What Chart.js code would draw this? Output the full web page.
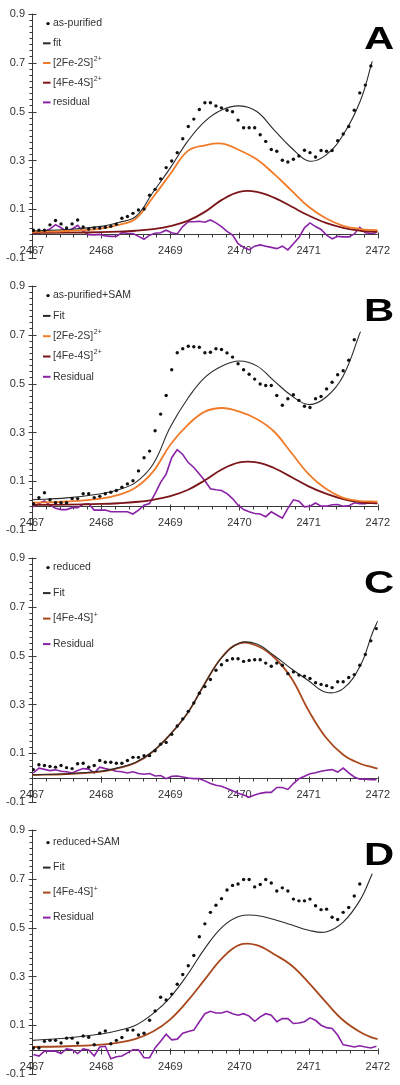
<!DOCTYPE html>
<html>
<head>
<meta charset="utf-8">
<script src="https://cdn.jsdelivr.net/npm/chart.js@4.4.1/dist/chart.umd.min.js"></script>
<style>
  html, body { margin: 0; padding: 0; background: #fff; width: 400px; height: 1085px; overflow: hidden; position: relative; }
  canvas { position: absolute; left: 0; }
</style>
</head>
<body>
<canvas id="panelA" width="400" height="272" style="top:0px"></canvas>
<canvas id="panelB" width="400" height="272" style="top:272px"></canvas>
<canvas id="panelC" width="400" height="272" style="top:544px"></canvas>
<canvas id="panelD" width="400" height="272" style="top:816px"></canvas>
<script>
// measured energies (eV) of the data points / residual
const energy = [
  2467.02, 2467.10, 2467.18, 2467.26, 2467.34, 2467.42, 2467.50, 2467.58, 2467.66, 2467.74,
  2467.82, 2467.90, 2467.98, 2468.06, 2468.14, 2468.22, 2468.30, 2468.38, 2468.46, 2468.54,
  2468.62, 2468.70, 2468.78, 2468.86, 2468.94, 2469.02, 2469.10, 2469.18, 2469.26, 2469.34,
  2469.42, 2469.50, 2469.58, 2469.66, 2469.74, 2469.82, 2469.90, 2469.98, 2470.06, 2470.14,
  2470.22, 2470.30, 2470.38, 2470.46, 2470.54, 2470.62, 2470.70, 2470.78, 2470.86, 2470.94,
  2471.02, 2471.10, 2471.18, 2471.26, 2471.34, 2471.42, 2471.50, 2471.58, 2471.66, 2471.74,
  2471.82, 2471.90, 2471.98
];
// energies for the smooth fit / component curves
const curveEnergy = [2467, 2467.5, 2468, 2468.25, 2468.5, 2468.75, 2469, 2469.25, 2469.5, 2469.75,
  2470, 2470.25, 2470.5, 2470.75, 2471, 2471.25, 2471.5, 2471.75, 2471.92, 2472];

const xTicks = [2467, 2468, 2469, 2470, 2471, 2472];
const yTicks = [-0.1, 0.1, 0.3, 0.5, 0.7, 0.9];

// A: as-purified
const dotsA = [0.015,0.015,0.015,0.037,0.055,0.041,0.024,0.041,0.057,0.028,
  0.020,0.024,0.024,0.027,0.031,0.040,0.064,0.071,0.084,0.098,
  0.102,0.158,0.182,0.225,0.271,0.298,0.332,0.389,0.439,0.469,
  0.508,0.536,0.536,0.523,0.515,0.505,0.499,0.465,0.434,0.434,
  0.434,0.405,0.378,0.345,0.338,0.301,0.294,0.305,0.318,0.342,
  0.332,0.314,0.341,0.338,0.341,0.381,0.408,0.439,0.505,0.576,
  0.608,0.686];
const fitA = [0.012,0.018,0.031,0.047,0.071,0.170,0.270,0.378,0.460,0.507,0.523,0.500,0.425,0.352,0.298,0.322,0.405,0.545,0.705,null];
const fe2sA = [0.008,0.012,0.022,0.037,0.062,0.150,0.245,0.338,0.362,0.369,0.342,0.305,0.245,0.178,0.111,0.064,0.033,0.020,0.016,0.015];
const fe4sA = [0.004,0.005,0.007,0.009,0.013,0.020,0.032,0.053,0.090,0.140,0.172,0.172,0.148,0.112,0.075,0.045,0.025,0.013,0.009,0.008];
const residA = [0.004,0.004,0.010,0.020,0.038,0.025,0.010,0.020,0.035,0.010,
  -0.003,-0.004,-0.002,-0.008,-0.010,-0.010,0.005,0.003,0.002,-0.010,
  -0.022,-0.005,0.003,0.005,0.015,0.005,0.000,0.030,0.050,0.050,
  0.052,0.048,0.057,0.045,0.030,0.010,-0.005,-0.040,-0.055,-0.065,
  -0.050,-0.045,-0.050,-0.055,-0.060,-0.050,-0.065,-0.040,-0.015,0.025,
  0.045,0.030,0.018,-0.005,-0.020,-0.010,-0.012,-0.012,0.000,0.027,
  0.005,0.002,0.005];

// B: as-purified+SAM
const dotsB = [0.009,0.034,0.054,0.025,0.013,0.013,0.013,0.030,0.030,0.050,
  0.050,0.034,0.039,0.050,0.056,0.063,0.076,0.090,0.103,0.143,
  0.197,0.224,0.307,0.375,0.451,0.556,0.626,0.642,0.652,0.650,
  0.648,0.626,0.628,0.642,0.639,0.625,0.608,0.581,0.556,0.538,
  0.518,0.498,0.492,0.492,0.451,0.411,0.438,0.454,0.431,0.407,
  0.402,0.438,0.447,0.478,0.505,0.536,0.552,0.595,0.679];
const fitB = [0.025,0.033,0.050,0.066,0.096,0.170,0.322,0.438,0.525,0.572,0.592,0.572,0.511,0.451,0.414,0.444,0.531,0.712,null,null];
const fe2sB = [0.013,0.018,0.030,0.045,0.075,0.140,0.250,0.330,0.385,0.400,0.385,0.355,0.304,0.217,0.130,0.070,0.033,0.020,0.018,0.017];
const fe4sB = [0.004,0.005,0.008,0.011,0.016,0.025,0.040,0.065,0.105,0.150,0.178,0.178,0.155,0.118,0.080,0.050,0.028,0.015,0.011,0.010];
const residB = [-0.004,0.010,0.020,0.003,-0.010,-0.015,-0.015,-0.007,-0.007,0.007,
  0.009,-0.017,-0.017,-0.017,-0.024,-0.024,-0.024,-0.024,-0.033,-0.017,
  0.003,0.010,0.050,0.096,0.130,0.197,0.230,0.210,0.177,0.157,
  0.130,0.103,0.070,0.066,0.063,0.050,0.030,0.003,-0.015,-0.024,
  -0.031,-0.033,-0.044,-0.024,-0.037,-0.050,-0.010,0.025,0.019,-0.004,
  -0.001,0.012,-0.001,-0.001,0.005,0.006,-0.001,0.000,0.013,0.009,
  0.009,0.016,0.012];

// C: reduced
const dotsC = [0.034,0.054,0.051,0.047,0.044,0.051,0.042,0.038,0.058,0.060,
  0.044,0.051,0.071,0.064,0.064,0.060,0.060,0.071,0.084,0.084,
  0.091,0.091,0.111,0.138,0.145,0.178,0.212,0.241,0.272,0.306,
  0.346,0.373,0.402,0.440,0.462,0.480,0.487,0.487,0.476,0.480,
  0.483,0.483,0.469,0.456,0.469,0.460,0.426,0.433,0.420,0.416,
  0.406,0.389,0.382,0.377,0.369,0.393,0.393,0.410,0.422,0.460,
  0.504,0.560,0.610];
const fitC = [0.013,0.017,0.028,0.042,0.064,0.109,0.178,0.265,0.386,0.493,0.551,0.547,0.500,0.446,0.397,0.350,0.365,0.460,0.590,0.641];
const fe4sC = [0.012,0.016,0.026,0.040,0.062,0.108,0.178,0.265,0.386,0.495,0.550,0.540,0.493,0.408,0.275,0.165,0.095,0.058,0.044,0.038];
const residC = [0.020,0.040,0.035,0.030,0.033,0.027,0.025,0.020,0.030,0.038,
  0.036,0.020,0.044,0.038,0.033,0.027,0.025,0.020,0.025,0.018,
  0.015,0.018,0.008,0.010,-0.003,0.007,0.008,0.004,0.000,-0.003,
  -0.003,-0.012,-0.023,-0.030,-0.034,-0.043,-0.052,-0.063,-0.070,-0.079,
  -0.070,-0.063,-0.059,-0.059,-0.039,-0.039,-0.047,-0.023,-0.003,0.007,
  0.017,0.021,0.027,0.031,0.034,0.024,0.040,0.021,0.004,-0.005,
  -0.005,-0.007,-0.007];

// D: reduced+SAM
const dotsD = [0.008,0.008,0.035,0.039,0.039,0.028,0.048,0.048,0.028,0.057,
  0.052,0.021,0.068,0.077,0.025,0.039,0.051,0.081,0.081,0.061,
  0.068,0.121,0.159,0.215,0.204,0.228,0.268,0.308,0.344,0.386,
  0.462,0.515,0.562,0.591,0.618,0.653,0.672,0.678,0.696,0.696,
  0.666,0.676,0.696,0.682,0.649,0.662,0.649,0.616,0.609,0.609,
  0.616,0.589,0.573,0.575,0.542,0.533,0.562,0.582,0.629,0.678];
const fitD = [0.039,0.049,0.065,0.079,0.101,0.148,0.215,0.308,0.415,0.502,0.546,0.549,0.533,0.511,0.489,0.482,0.522,0.615,0.720,null];
const fe4sD = [0.012,0.015,0.022,0.030,0.045,0.075,0.125,0.200,0.288,0.375,0.429,0.428,0.391,0.346,0.275,0.195,0.121,0.072,0.050,0.044];
const residD = [-0.019,-0.025,-0.005,-0.005,-0.005,-0.015,0.004,0.001,-0.015,0.004,
  0.000,-0.025,0.012,0.015,-0.036,-0.028,-0.025,-0.012,0.001,0.001,
  -0.032,-0.032,0.008,0.035,0.064,0.041,0.044,0.068,0.075,0.081,
  0.115,0.148,0.158,0.151,0.151,0.158,0.148,0.142,0.148,0.138,
  0.117,0.135,0.148,0.142,0.115,0.128,0.128,0.108,0.110,0.115,
  0.131,0.121,0.101,0.091,0.088,0.061,0.021,0.017,0.012,0.017,
  0.012,0.008,0.015];

const COLORS = {
  text: "#333",
  axis: "#3a3a3a",
  dots: "#111",
  fit: "#2a2a2a",
  fe2s: "#f07c2a",
  fe4s2: "#7b1518",
  fe4s1: "#a8481c",
  resid: "#8a22a6"
};
const FONT = "'Liberation Sans', Arial, sans-serif";

const pts = (xs, ys) => ys.map((y, i) => ({ x: xs[i], y })).filter((p) => p.y !== null);

const dotSet = (label, values) => ({
  label, kind: "dot",
  data: pts(energy, values),
  showLine: false,
  pointRadius: 1.7,
  pointBackgroundColor: COLORS.dots,
  pointBorderWidth: 0,
  borderColor: COLORS.dots
});
const curveSet = (label, values, color, width, sup) => ({
  label, sup, kind: "line",
  data: pts(curveEnergy, values),
  borderColor: color,
  borderWidth: width,
  pointRadius: 0,
  tension: 0.4
});
const residSet = (label, values) => ({
  label, kind: "line",
  data: pts(energy, values),
  borderColor: COLORS.resid,
  borderWidth: 1.6,
  pointRadius: 0,
  tension: 0
});

// axes, legend and panel letter
const panelDecor = {
  id: "panelDecor",
  beforeDatasetsDraw(chart) {
    const { ctx, chartArea: a, scales: { x, y } } = chart;
    const x0 = Math.round(a.left) + 0.5;
    const y0 = Math.round(y.getPixelForValue(0)) + 0.5;
    ctx.save();
    ctx.strokeStyle = COLORS.axis;
    ctx.lineWidth = 1;
    ctx.beginPath();
    ctx.moveTo(x0, y.getPixelForValue(yTicks[yTicks.length - 1]));
    ctx.lineTo(x0, y.getPixelForValue(yTicks[0]));
    ctx.moveTo(x.getPixelForValue(xTicks[0]), y0);
    ctx.lineTo(x.getPixelForValue(xTicks[xTicks.length - 1]), y0);
    for (let k = 0; k <= 40; k++) {
      const py = Math.round(y.getPixelForValue(-0.1 + k * 0.025)) + 0.5;
      const major = k % 8 === 0;
      ctx.moveTo(x0 - (major ? 4 : 3), py);
      ctx.lineTo(x0 + (major ? 4 : 0), py);
    }
    for (let k = 0; k <= 25; k++) {
      const px = Math.round(x.getPixelForValue(2467 + k * 0.2)) + 0.5;
      const major = k % 5 === 0;
      ctx.moveTo(px, y0 - (major ? 2 : 0));
      ctx.lineTo(px, y0 + (major ? 4 : 3));
    }
    ctx.stroke();
    ctx.restore();
  },
  afterDatasetsDraw(chart, args, opts) {
    const { ctx, chartArea: a } = chart;
    ctx.save();
    let ly = a.top + opts.legendTop;
    chart.data.datasets.forEach((ds) => {
      if (ds.kind === "dot") {
        ctx.fillStyle = COLORS.dots;
        ctx.beginPath();
        ctx.arc(48, ly, 1.7, 0, Math.PI * 2);
        ctx.fill();
      } else {
        ctx.strokeStyle = ds.borderColor;
        ctx.lineWidth = 2;
        ctx.beginPath();
        ctx.moveTo(43, ly);
        ctx.lineTo(50.5, ly);
        ctx.stroke();
      }
      ctx.fillStyle = COLORS.text;
      ctx.textBaseline = "middle";
      ctx.textAlign = "left";
      ctx.font = `10.5px ${FONT}`;
      ctx.fillText(ds.label, 53, ly);
      if (ds.sup) {
        const w = ctx.measureText(ds.label).width;
        ctx.font = `7px ${FONT}`;
        ctx.fillText(ds.sup, 53 + w + 0.5, ly - 4);
      }
      ly += opts.legendGap;
    });
    ctx.fillStyle = "#000";
    ctx.font = `bold 31px ${FONT}`;
    ctx.textAlign = "center";
    ctx.textBaseline = "alphabetic";
    ctx.translate(379, a.top + 35.5);
    ctx.scale(1.35, 1);
    ctx.fillText(opts.letter, 0, 0);
    ctx.restore();
  }
};

const makePanel = (id, letter, datasets, legendTop, legendGap) => new Chart(document.getElementById(id), {
  type: "line",
  data: { datasets },
  plugins: [panelDecor],
  options: {
    responsive: false,
    animation: false,
    layout: { padding: { left: 0, right: 16, top: 10, bottom: 12 } },
    plugins: {
      legend: { display: false },
      tooltip: { enabled: false },
      panelDecor: { letter, legendTop, legendGap }
    },
    scales: {
      x: {
        type: "linear",
        position: { y: 0 },
        min: xTicks[0],
        max: xTicks[xTicks.length - 1],
        afterBuildTicks: (s) => { s.ticks = xTicks.map((v) => ({ value: v })); },
        ticks: {
          callback: (v) => String(v),
          color: COLORS.text,
          font: { family: FONT, size: 11 },
          padding: 10,
          maxRotation: 0
        },
        grid: { display: false, drawTicks: false },
        border: { display: false }
      },
      y: {
        type: "linear",
        min: yTicks[0],
        max: yTicks[yTicks.length - 1],
        afterBuildTicks: (s) => { s.ticks = yTicks.map((v) => ({ value: v })); },
        afterFit: (s) => { s.width = 32; },
        ticks: {
          callback: (v) => v.toFixed(1),
          color: COLORS.text,
          font: { family: FONT, size: 11 },
          padding: 7
        },
        grid: { display: false, drawTicks: false },
        border: { display: false }
      }
    }
  }
});

makePanel("panelA", "A", [
  dotSet("as-purified", dotsA),
  curveSet("fit", fitA, COLORS.fit, 1.1),
  curveSet("[2Fe-2S]", fe2sA, COLORS.fe2s, 1.8, "2+"),
  curveSet("[4Fe-4S]", fe4sA, COLORS.fe4s2, 1.8, "2+"),
  residSet("residual", residA)
], 10, 19.7);

makePanel("panelB", "B", [
  dotSet("as-purified+SAM", dotsB),
  curveSet("Fit", fitB, COLORS.fit, 1.1),
  curveSet("[2Fe-2S]", fe2sB, COLORS.fe2s, 1.8, "2+"),
  curveSet("[4Fe-4S]", fe4sB, COLORS.fe4s2, 1.8, "2+"),
  residSet("Residual", residB)
], 10, 20.3);

makePanel("panelC", "C", [
  dotSet("reduced", dotsC),
  curveSet("Fit", fitC, COLORS.fit, 1.1),
  curveSet("[4Fe-4S]", fe4sC, COLORS.fe4s1, 1.8, "+"),
  residSet("Residual", residC)
], 10, 25.5);

makePanel("panelD", "D", [
  dotSet("reduced+SAM", dotsD),
  curveSet("Fit", fitD, COLORS.fit, 1.1),
  curveSet("[4Fe-4S]", fe4sD, COLORS.fe4s1, 1.8, "+"),
  residSet("Residual", residD)
], 13, 25);
</script>
</body>
</html>
